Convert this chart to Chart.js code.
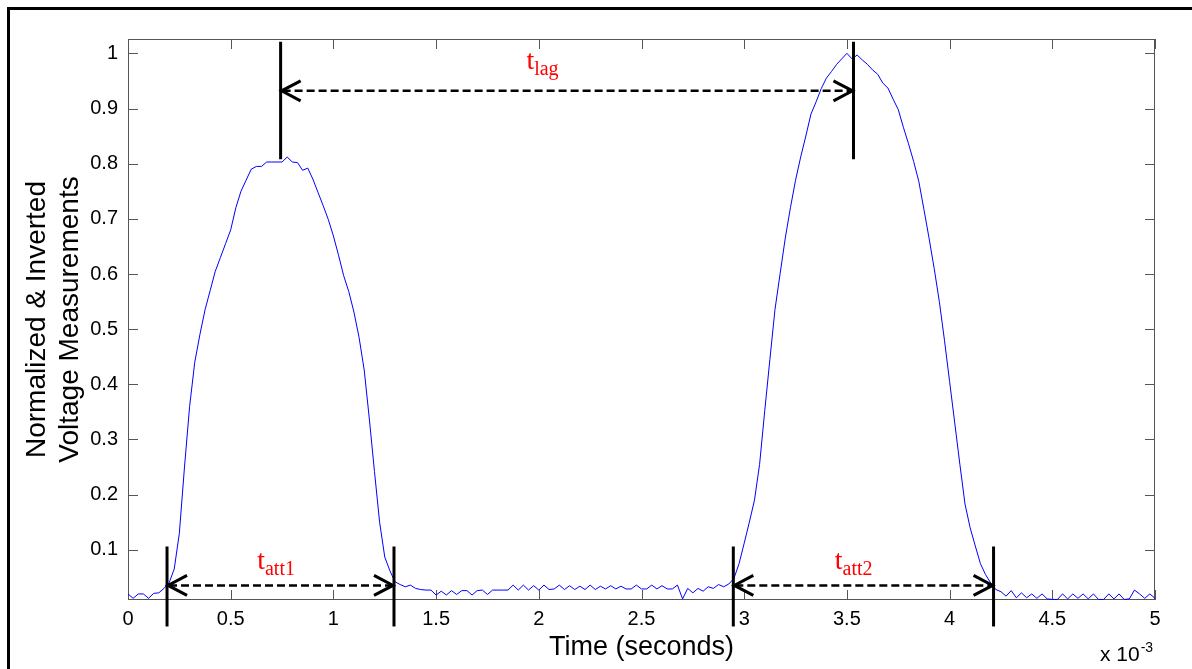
<!DOCTYPE html>
<html>
<head>
<meta charset="utf-8">
<script src="https://cdn.jsdelivr.net/npm/chart.js@4.4.1/dist/chart.umd.min.js"></script>
<style>
html,body{margin:0;padding:0;background:#fff;}
#wrap{width:1192px;height:669px;position:relative;}
</style>
</head>
<body>
<div id="wrap"><canvas id="c" width="1192" height="669"></canvas></div>
<script>
// ---- data (time in ms, i.e. seconds x 10^-3) ----
const timeMs = [0,0.025,0.05,0.075,0.1,0.125,0.15,0.175,0.2,0.225,0.25,0.275,0.3,0.325,0.35,0.375,0.4,0.425,0.45,0.475,
0.5,0.525,0.55,0.575,0.6,0.625,0.65,0.675,0.7,0.725,0.75,0.775,0.8,0.825,0.85,0.875,0.9,0.925,0.95,0.975,
1,1.025,1.05,1.075,1.1,1.125,1.15,1.175,1.2,1.225,1.25,1.275,1.3,1.325,1.35,1.375,1.4,1.425,1.45,1.475,
1.5,1.525,1.55,1.575,1.6,1.625,1.65,1.675,1.7,1.725,1.75,1.775,1.8,1.825,1.85,1.875,1.9,1.925,1.95,1.975,
2,2.025,2.05,2.075,2.1,2.125,2.15,2.175,2.2,2.225,2.25,2.275,2.3,2.325,2.35,2.375,2.4,2.425,2.45,2.475,
2.5,2.525,2.55,2.575,2.6,2.625,2.65,2.675,2.7,2.725,2.75,2.775,2.8,2.825,2.85,2.875,2.9,2.925,2.95,2.975,
3,3.025,3.05,3.075,3.1,3.125,3.15,3.175,3.2,3.225,3.25,3.275,3.3,3.325,3.35,3.375,3.4,3.425,3.45,3.475,
3.5,3.525,3.55,3.575,3.6,3.625,3.65,3.675,3.7,3.725,3.75,3.775,3.8,3.825,3.85,3.875,3.9,3.925,3.95,3.975,
4,4.025,4.05,4.075,4.1,4.125,4.15,4.175,4.2,4.225,4.25,4.275,4.3,4.325,4.35,4.375,4.4,4.425,4.45,4.475,
4.5,4.525,4.55,4.575,4.6,4.625,4.65,4.675,4.7,4.725,4.75,4.775,4.8,4.825,4.85,4.875,4.9,4.925,4.95,4.975,
5];
const voltage = [0.020,0.012,0.020,0.020,0.012,0.021,0.022,0.030,0.040,0.065,0.130,0.250,0.360,0.440,0.490,0.535,0.570,0.605,0.630,0.655,
0.680,0.720,0.750,0.770,0.790,0.795,0.795,0.803,0.803,0.803,0.803,0.812,0.803,0.802,0.788,0.792,0.772,0.748,0.724,0.699,
0.669,0.634,0.597,0.568,0.531,0.485,0.426,0.337,0.242,0.150,0.087,0.062,0.042,0.037,0.033,0.036,0.030,0.028,0.027,0.027,
0.018,0.025,0.018,0.026,0.019,0.026,0.026,0.018,0.026,0.027,0.019,0.027,0.027,0.027,0.027,0.036,0.027,0.036,0.027,0.035,
0.027,0.036,0.028,0.029,0.036,0.028,0.035,0.028,0.034,0.028,0.036,0.028,0.034,0.029,0.035,0.029,0.034,0.029,0.029,0.036,
0.029,0.029,0.036,0.029,0.035,0.029,0.029,0.036,0.011,0.030,0.022,0.030,0.025,0.033,0.030,0.037,0.033,0.038,0.048,0.075,
0.112,0.150,0.190,0.255,0.352,0.445,0.536,0.601,0.665,0.720,0.770,0.812,0.850,0.890,0.912,0.936,0.955,0.967,0.980,0.990,
1.000,0.990,0.997,0.988,0.980,0.970,0.962,0.946,0.937,0.917,0.898,0.866,0.836,0.804,0.768,0.717,0.665,0.610,0.550,0.480,
0.405,0.330,0.255,0.183,0.140,0.107,0.075,0.055,0.040,0.028,0.024,0.016,0.026,0.013,0.022,0.013,0.020,0.012,0.020,0.011,
0.010,0.010,0.020,0.011,0.020,0.012,0.020,0.011,0.020,0.010,0.010,0.020,0.011,0.020,0.010,0.011,0.027,0.020,0.012,0.020,
0.012];

const xTickValues = [0,0.5,1,1.5,2,2.5,3,3.5,4,4.5,5];
const xTickLabels = ['0','0.5','1','1.5','2','2.5','3','3.5','4','4.5','5'];
const yTickValues = [0.1,0.2,0.3,0.4,0.5,0.6,0.7,0.8,0.9,1];
const yTickLabels = ['0.1','0.2','0.3','0.4','0.5','0.6','0.7','0.8','0.9','1'];

const xTitle = 'Time (seconds)';
const yTitle = ['Normalized & Inverted','Voltage Measurements'];
const xExponentBase = 'x 10';
const xExponent = '-3';

// annotation markers (time in ms)
const lagMarkers = [0.743, 3.532];
const att1Markers = [0.19, 1.295];
const att2Markers = [2.947, 4.214];
const lagLabel = ['t','lag'];
const att1Label = ['t','att1'];
const att2Label = ['t','att2'];

const SANS = "'Liberation Sans', Arial, Helvetica, sans-serif";
const SERIF = "'Liberation Serif', 'Times New Roman', serif";

function chevron(ctx, tipX, tipY, dir){
  ctx.beginPath();
  ctx.moveTo(tipX - dir*19, tipY - 10);
  ctx.lineTo(tipX, tipY);
  ctx.lineTo(tipX - dir*19, tipY + 10);
  ctx.stroke();
}
function dblArrow(ctx, x1, x2, yy){
  ctx.save();
  ctx.strokeStyle = '#000';
  ctx.lineWidth = 2.5;
  ctx.setLineDash([8,4]);
  ctx.beginPath(); ctx.moveTo(x1+2, yy); ctx.lineTo(x2-2, yy); ctx.stroke();
  ctx.setLineDash([]);
  ctx.lineWidth = 3;
  ctx.lineCap = 'butt';
  chevron(ctx, x1+1, yy, -1);
  chevron(ctx, x2-1, yy, 1);
  ctx.restore();
}
function vline(ctx, xx, y1, y2){
  ctx.save();
  ctx.strokeStyle = '#000';
  ctx.lineWidth = 3;
  ctx.beginPath(); ctx.moveTo(xx, y1); ctx.lineTo(xx, y2); ctx.stroke();
  ctx.restore();
}
function subLabel(ctx, parts, cx, baseY){
  ctx.save();
  ctx.fillStyle = '#ff0000';
  ctx.textBaseline = 'alphabetic';
  ctx.textAlign = 'left';
  ctx.font = '28px ' + SERIF;
  const w1 = ctx.measureText(parts[0]).width;
  ctx.font = '20px ' + SERIF;
  const w2 = ctx.measureText(parts[1]).width;
  const x0 = cx - (w1 + w2)/2;
  ctx.font = '28px ' + SERIF;
  ctx.fillText(parts[0], x0, baseY);
  ctx.font = '20px ' + SERIF;
  ctx.fillText(parts[1], x0 + w1, baseY + 6);
  ctx.restore();
}

const annotPlugin = {
  id: 'annot',
  beforeDraw(chart){
    const ctx = chart.ctx;
    ctx.save();
    ctx.fillStyle = '#fff';
    ctx.fillRect(0, 0, chart.width, chart.height);
    ctx.strokeStyle = '#000';
    ctx.lineWidth = 3;
    ctx.beginPath();
    ctx.moveTo(7, 8.5); ctx.lineTo(chart.width, 8.5);
    ctx.moveTo(8.5, 7); ctx.lineTo(8.5, chart.height);
    ctx.stroke();
    ctx.restore();
  },
  beforeDatasetsDraw(chart){
    const {ctx, chartArea: a, scales: {x, y}} = chart;
    ctx.save();
    ctx.strokeStyle = '#555';
    ctx.lineWidth = 1;
    ctx.strokeRect(a.left + 0.5, a.top + 0.5, a.right - a.left - 1, a.bottom - a.top - 1);
    ctx.beginPath();
    xTickValues.forEach(v => {
      const px = Math.round(x.getPixelForValue(v)) + 0.5;
      ctx.moveTo(px, a.bottom); ctx.lineTo(px, a.bottom - 10);
      ctx.moveTo(px, a.top); ctx.lineTo(px, a.top + 10);
    });
    yTickValues.forEach(v => {
      const py = Math.round(y.getPixelForValue(v)) + 0.5;
      ctx.moveTo(a.left, py); ctx.lineTo(a.left + 10, py);
      ctx.moveTo(a.right, py); ctx.lineTo(a.right - 10, py);
    });
    ctx.stroke();
    ctx.restore();
  },
  afterDraw(chart){
    const {ctx, chartArea: a, scales: {x, y}} = chart;
    // t_lag
    const l1 = x.getPixelForValue(lagMarkers[0]), l2 = x.getPixelForValue(lagMarkers[1]);
    vline(ctx, l1, y.getPixelForValue(1.021), y.getPixelForValue(0.808));
    vline(ctx, l2, y.getPixelForValue(1.021), y.getPixelForValue(0.808));
    dblArrow(ctx, l1, l2, y.getPixelForValue(0.932));
    subLabel(ctx, lagLabel, x.getPixelForValue(2.018), y.getPixelForValue(0.9715));
    // t_att1, t_att2
    [[att1Markers, att1Label, 0.721], [att2Markers, att2Label, 3.533]].forEach(([m, lab, cx]) => {
      const p1 = x.getPixelForValue(m[0]), p2 = x.getPixelForValue(m[1]);
      vline(ctx, p1, y.getPixelForValue(0.106), y.getPixelForValue(-0.039));
      vline(ctx, p2, y.getPixelForValue(0.106), y.getPixelForValue(-0.039));
      dblArrow(ctx, p1, p2, y.getPixelForValue(0.0354));
      subLabel(ctx, lab, x.getPixelForValue(cx), y.getPixelForValue(0.0657));
    });
    // x 10^-3
    ctx.save();
    ctx.fillStyle = '#000';
    ctx.textAlign = 'left';
    ctx.textBaseline = 'alphabetic';
    ctx.font = '21px ' + SANS;
    const bx = a.right - 55;
    ctx.fillText(xExponentBase, bx, a.bottom + 61);
    const w = ctx.measureText(xExponentBase).width;
    ctx.font = '14px ' + SANS;
    ctx.fillText(xExponent, bx + w + 1, a.bottom + 52);
    ctx.restore();
  }
};

const points = timeMs.map((t, i) => ({x: t, y: voltage[i]}));

new Chart(document.getElementById('c'), {
  type: 'line',
  data: {
    datasets: [{
      data: points,
      borderColor: '#0000ff',
      borderWidth: 1,
      pointRadius: 0,
      tension: 0,
      fill: false
    }]
  },
  options: {
    responsive: false,
    animation: false,
    devicePixelRatio: 1,
    layout: {padding: {left: 0, right: 37, top: 39, bottom: 0}},
    plugins: {legend: {display: false}, tooltip: {enabled: false}},
    scales: {
      x: {
        type: 'linear', min: 0, max: 5,
        afterBuildTicks: s => { s.ticks = xTickValues.map(v => ({value: v})); },
        afterFit: s => { s.height = 69; },
        grid: {display: false, drawTicks: false},
        border: {display: false},
        ticks: {
          callback: (v, i) => xTickLabels[i],
          font: {family: SANS, size: 20},
          color: '#000',
          padding: 7,
          maxRotation: 0,
          autoSkip: false
        },
        title: {display: true, text: xTitle, color: '#000',
          font: {family: SANS, size: 27, lineHeight: 1.2}, padding: {top: 0, bottom: 5}}
      },
      y: {
        type: 'linear', min: 0.009, max: 1.026,
        afterBuildTicks: s => { s.ticks = yTickValues.map(v => ({value: v})); },
        afterFit: s => { s.width = 128; },
        grid: {display: false, drawTicks: false},
        border: {display: false},
        ticks: {
          callback: (v, i) => yTickLabels[i],
          font: {family: SANS, size: 20},
          color: '#000',
          padding: 10,
          autoSkip: false
        },
        title: {display: true, text: yTitle, color: '#000',
          font: {family: SANS, size: 28, lineHeight: 1.18}, padding: {top: 21, bottom: 0}}
      }
    }
  },
  plugins: [annotPlugin]
});
</script>
</body>
</html>
